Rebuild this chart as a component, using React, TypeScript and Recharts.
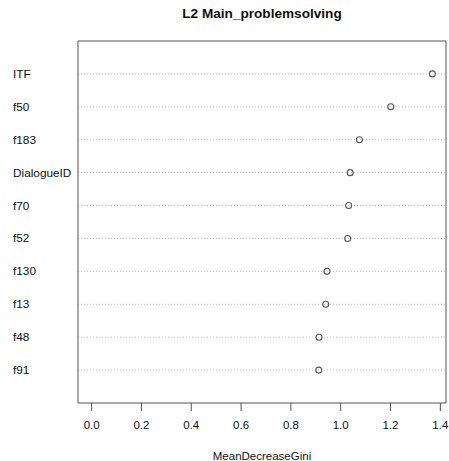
import React from "react";
import {
  ScatterChart,
  Scatter,
  XAxis,
  YAxis,
  CartesianGrid,
  ReferenceArea,
} from "recharts";

// Variable importance (random forest), listed from most to least important
const features = ["ITF", "f50", "f183", "DialogueID", "f70", "f52", "f130", "f13", "f48", "f91"];
const meanDecreaseGini = [1.368, 1.201, 1.075, 1.038, 1.032, 1.028, 0.945, 0.94, 0.913, 0.912];
const xTicks = [0, 0.2, 0.4, 0.6, 0.8, 1.0, 1.2, 1.4];

const n = features.length;
const points = features.map((name, i) => ({ name, gini: meanDecreaseGini[i], row: n - i }));
const rowTicks = points.map((p) => p.row);
const labelFor = (row: number) => features[n - row] ?? "";

// x range: 0..max, padded 4% on both sides
const xMax = Math.max(...meanDecreaseGini);
const pad = xMax * 0.04;
const xDomain: [number, number] = [-pad, xMax + pad];

const FONT = "Liberation Sans, Arial, Helvetica, sans-serif";

const RowLabel = (props: any) => {
  const { y, payload } = props;
  return (
    <text x={13} y={y} dy={4} textAnchor="start" fontSize={11.8} fill="#111" fontFamily={FONT}>
      {labelFor(payload.value)}
    </text>
  );
};

const OpenCircle = (props: any) => {
  const { cx, cy } = props;
  return <circle cx={cx} cy={cy} r={3} fill="none" stroke="#555" strokeWidth={1.1} />;
};

export default function App() {
  return (
    <div style={{ position: "absolute", left: 0, top: 0, width: 449, height: 461, background: "#fff" }}>
      <div
        style={{
          position: "absolute",
          left: 78,
          width: 368,
          top: 6,
          textAlign: "center",
          fontFamily: FONT,
          fontWeight: "bold",
          fontSize: 13.6,
          color: "#111",
        }}
      >
        L2 Main_problemsolving
      </div>
      <ScatterChart width={449} height={461} margin={{ top: 41, right: 3, bottom: 20, left: 0 }}>
        <CartesianGrid
          vertical={false}
          horizontal
          stroke="#bbb"
          strokeDasharray="1 2"
          horizontalValues={rowTicks}
        />
        <XAxis
          type="number"
          dataKey="gini"
          domain={xDomain}
          ticks={xTicks}
          tickFormatter={(v: number) => v.toFixed(1)}
          allowDataOverflow
          axisLine={false}
          tickSize={8}
          tickMargin={10}
          tickLine={{ stroke: "#555" }}
          tick={{ fontSize: 11.5, fill: "#111", fontFamily: FONT }}
          height={38}
          label={{
            value: "MeanDecreaseGini",
            position: "insideBottom",
            offset: -19,
            fontSize: 11.5,
            fill: "#111",
            fontFamily: FONT,
          }}
        />
        <YAxis
          type="number"
          dataKey="row"
          domain={[0, n + 1]}
          ticks={rowTicks}
          width={78}
          axisLine={false}
          tickLine={false}
          tick={<RowLabel />}
          interval={0}
        />
        <ReferenceArea
          x1={xDomain[0]}
          x2={xDomain[1]}
          y1={0}
          y2={n + 1}
          fill="none"
          stroke="#555"
          strokeWidth={1}
          ifOverflow="visible"
        />
        <Scatter data={points} shape={<OpenCircle />} isAnimationActive={false} />
      </ScatterChart>
    </div>
  );
}
